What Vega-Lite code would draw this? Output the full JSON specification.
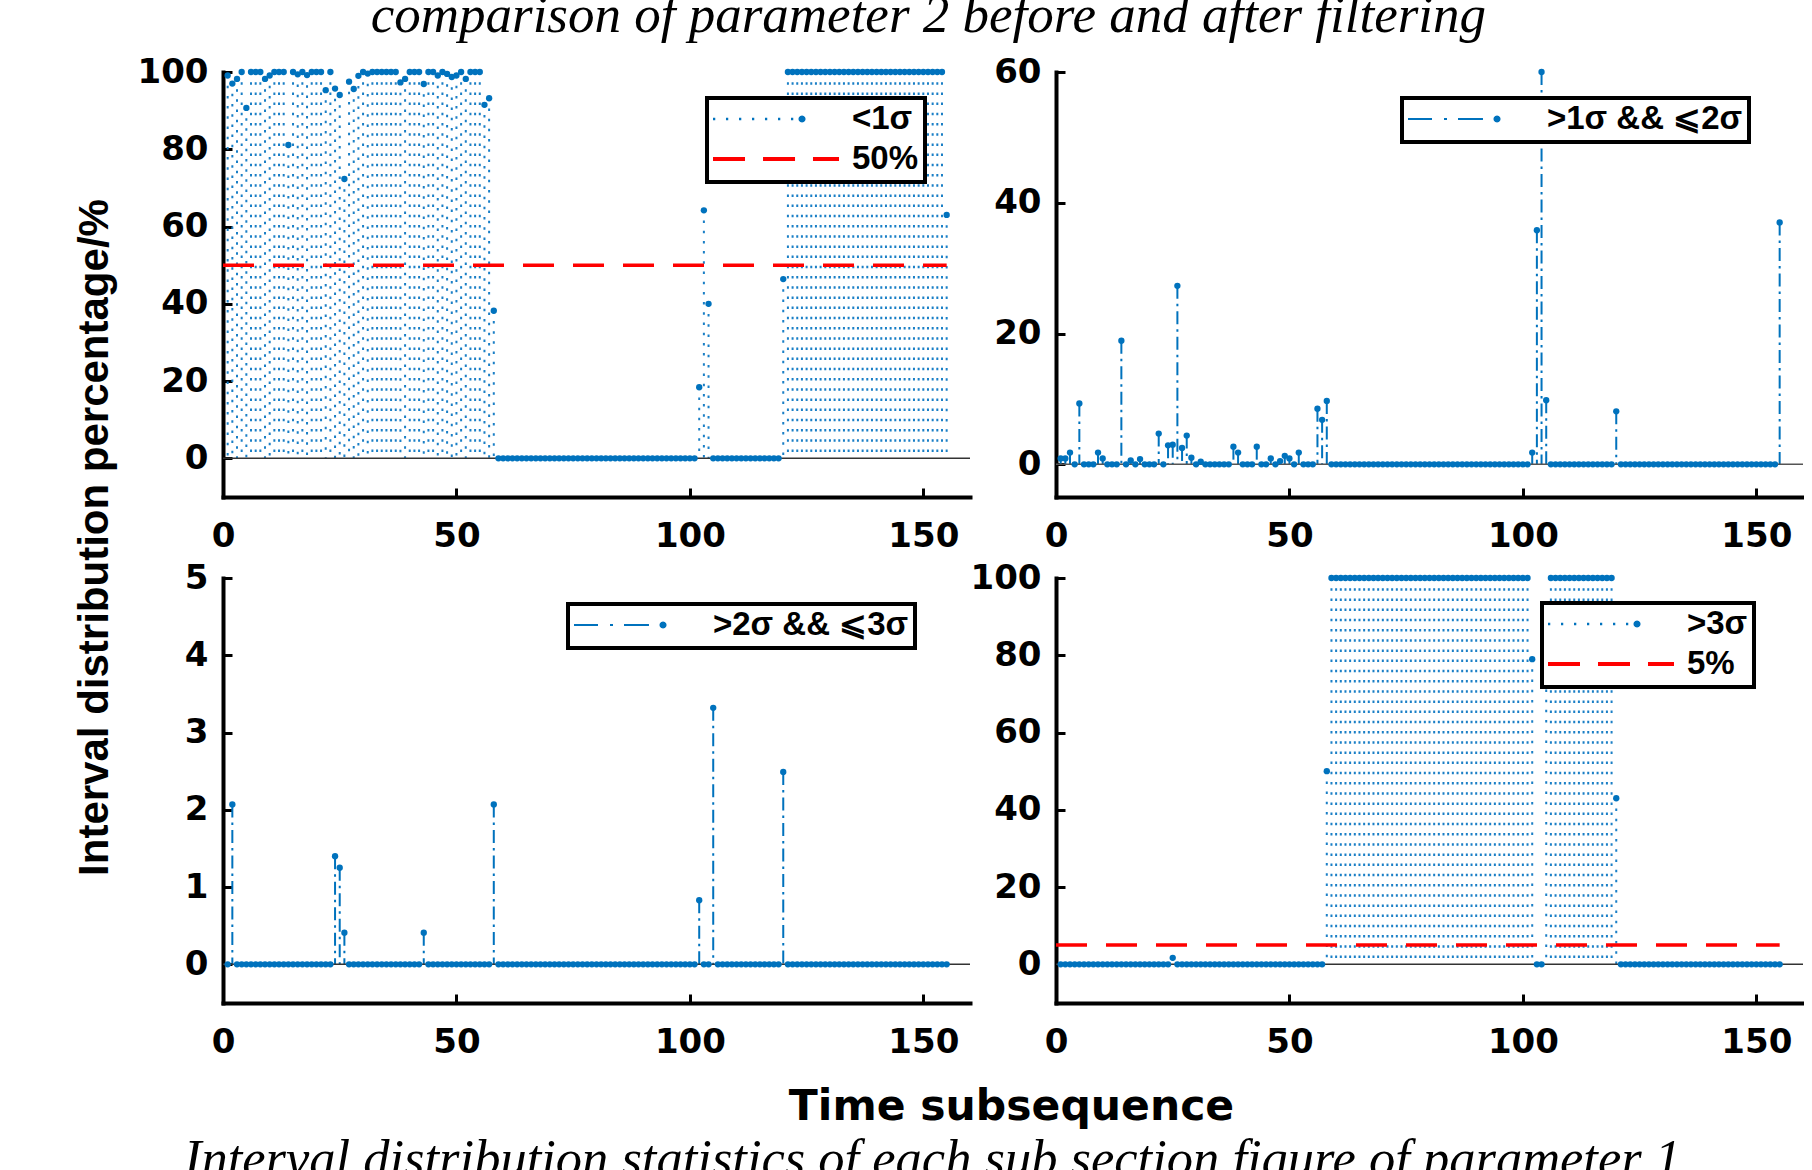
{
  "$schema": "https://vega.github.io/schema/vega-lite/v6.json",
  "background": "white",
  "autosize": {"type": "pad"},
  "padding": {"left": 72, "top": -10, "right": 0, "bottom": 0},
  "title": {"text": "comparison of  parameter 2 before and after filtering", "font": "Liberation Serif", "fontSize": 53, "fontStyle": "italic", "fontWeight": "normal", "color": "#000", "anchor": "middle", "baseline": "alphabetic", "offset": -30, "dx": -10},
  "columns": 2,
  "spacing": {"row": 81, "column": 86},
  "bounds": "flush",
  "resolve": {"scale": {"color": "independent", "shape": "independent"}, "legend": {"color": "independent", "shape": "independent"}},
  "datasets": {
    "d": [
      {"t":1,"p1":99.1,"p2":0.9,"p3":0,"p4":0},
      {"t":2,"p1":97.0,"p2":0.9,"p3":2.07,"p4":0},
      {"t":3,"p1":98.2,"p2":1.8,"p3":0,"p4":0},
      {"t":4,"p1":100,"p2":0,"p3":0,"p4":0},
      {"t":5,"p1":90.7,"p2":9.3,"p3":0,"p4":0},
      {"t":6,"p1":100,"p2":0,"p3":0,"p4":0},
      {"t":7,"p1":100,"p2":0,"p3":0,"p4":0},
      {"t":8,"p1":100,"p2":0,"p3":0,"p4":0},
      {"t":9,"p1":98.2,"p2":1.8,"p3":0,"p4":0},
      {"t":10,"p1":99.1,"p2":0.9,"p3":0,"p4":0},
      {"t":11,"p1":100,"p2":0,"p3":0,"p4":0},
      {"t":12,"p1":100,"p2":0,"p3":0,"p4":0},
      {"t":13,"p1":100,"p2":0,"p3":0,"p4":0},
      {"t":14,"p1":81.1,"p2":18.9,"p3":0,"p4":0},
      {"t":15,"p1":100,"p2":0,"p3":0,"p4":0},
      {"t":16,"p1":99.4,"p2":0.6,"p3":0,"p4":0},
      {"t":17,"p1":100,"p2":0,"p3":0,"p4":0},
      {"t":18,"p1":99.2,"p2":0.8,"p3":0,"p4":0},
      {"t":19,"p1":100,"p2":0,"p3":0,"p4":0},
      {"t":20,"p1":100,"p2":0,"p3":0,"p4":0},
      {"t":21,"p1":100,"p2":0,"p3":0,"p4":0},
      {"t":22,"p1":95.3,"p2":4.7,"p3":0,"p4":0},
      {"t":23,"p1":100,"p2":0,"p3":0,"p4":0},
      {"t":24,"p1":95.7,"p2":2.9,"p3":1.4,"p4":0},
      {"t":25,"p1":94.05,"p2":3.0,"p3":1.25,"p4":1.7},
      {"t":26,"p1":72.3,"p2":27.3,"p3":0.41,"p4":0},
      {"t":27,"p1":97.5,"p2":2.5,"p3":0,"p4":0},
      {"t":28,"p1":95.6,"p2":4.4,"p3":0,"p4":0},
      {"t":29,"p1":99.0,"p2":1.0,"p3":0,"p4":0},
      {"t":30,"p1":100,"p2":0,"p3":0,"p4":0},
      {"t":31,"p1":99.6,"p2":0.4,"p3":0,"p4":0},
      {"t":32,"p1":100,"p2":0,"p3":0,"p4":0},
      {"t":33,"p1":100,"p2":0,"p3":0,"p4":0},
      {"t":34,"p1":100,"p2":0,"p3":0,"p4":0},
      {"t":35,"p1":100,"p2":0,"p3":0,"p4":0},
      {"t":36,"p1":100,"p2":0,"p3":0,"p4":0},
      {"t":37,"p1":100,"p2":0,"p3":0,"p4":0},
      {"t":38,"p1":97.3,"p2":2.7,"p3":0,"p4":0},
      {"t":39,"p1":98.2,"p2":1.8,"p3":0,"p4":0},
      {"t":40,"p1":100,"p2":0,"p3":0,"p4":0},
      {"t":41,"p1":100,"p2":0,"p3":0,"p4":0},
      {"t":42,"p1":100,"p2":0,"p3":0,"p4":0},
      {"t":43,"p1":96.9,"p2":2.7,"p3":0.41,"p4":0},
      {"t":44,"p1":100,"p2":0,"p3":0,"p4":0},
      {"t":45,"p1":100,"p2":0,"p3":0,"p4":0},
      {"t":46,"p1":99.1,"p2":0.9,"p3":0,"p4":0},
      {"t":47,"p1":100,"p2":0,"p3":0,"p4":0},
      {"t":48,"p1":99.5,"p2":0.5,"p3":0,"p4":0},
      {"t":49,"p1":98.7,"p2":1.3,"p3":0,"p4":0},
      {"t":50,"p1":99.1,"p2":0.9,"p3":0,"p4":0},
      {"t":51,"p1":100,"p2":0,"p3":0,"p4":0},
      {"t":52,"p1":98.2,"p2":1.8,"p3":0,"p4":0},
      {"t":53,"p1":100,"p2":0,"p3":0,"p4":0},
      {"t":54,"p1":100,"p2":0,"p3":0,"p4":0},
      {"t":55,"p1":100,"p2":0,"p3":0,"p4":0},
      {"t":56,"p1":91.5,"p2":8.5,"p3":0,"p4":0},
      {"t":57,"p1":93.2,"p2":6.8,"p3":0,"p4":0},
      {"t":58,"p1":38.2,"p2":9.7,"p3":2.07,"p4":50},
      {"t":59,"p1":0,"p2":0,"p3":0,"p4":100},
      {"t":60,"p1":0,"p2":0,"p3":0,"p4":100},
      {"t":61,"p1":0,"p2":0,"p3":0,"p4":100},
      {"t":62,"p1":0,"p2":0,"p3":0,"p4":100},
      {"t":63,"p1":0,"p2":0,"p3":0,"p4":100},
      {"t":64,"p1":0,"p2":0,"p3":0,"p4":100},
      {"t":65,"p1":0,"p2":0,"p3":0,"p4":100},
      {"t":66,"p1":0,"p2":0,"p3":0,"p4":100},
      {"t":67,"p1":0,"p2":0,"p3":0,"p4":100},
      {"t":68,"p1":0,"p2":0,"p3":0,"p4":100},
      {"t":69,"p1":0,"p2":0,"p3":0,"p4":100},
      {"t":70,"p1":0,"p2":0,"p3":0,"p4":100},
      {"t":71,"p1":0,"p2":0,"p3":0,"p4":100},
      {"t":72,"p1":0,"p2":0,"p3":0,"p4":100},
      {"t":73,"p1":0,"p2":0,"p3":0,"p4":100},
      {"t":74,"p1":0,"p2":0,"p3":0,"p4":100},
      {"t":75,"p1":0,"p2":0,"p3":0,"p4":100},
      {"t":76,"p1":0,"p2":0,"p3":0,"p4":100},
      {"t":77,"p1":0,"p2":0,"p3":0,"p4":100},
      {"t":78,"p1":0,"p2":0,"p3":0,"p4":100},
      {"t":79,"p1":0,"p2":0,"p3":0,"p4":100},
      {"t":80,"p1":0,"p2":0,"p3":0,"p4":100},
      {"t":81,"p1":0,"p2":0,"p3":0,"p4":100},
      {"t":82,"p1":0,"p2":0,"p3":0,"p4":100},
      {"t":83,"p1":0,"p2":0,"p3":0,"p4":100},
      {"t":84,"p1":0,"p2":0,"p3":0,"p4":100},
      {"t":85,"p1":0,"p2":0,"p3":0,"p4":100},
      {"t":86,"p1":0,"p2":0,"p3":0,"p4":100},
      {"t":87,"p1":0,"p2":0,"p3":0,"p4":100},
      {"t":88,"p1":0,"p2":0,"p3":0,"p4":100},
      {"t":89,"p1":0,"p2":0,"p3":0,"p4":100},
      {"t":90,"p1":0,"p2":0,"p3":0,"p4":100},
      {"t":91,"p1":0,"p2":0,"p3":0,"p4":100},
      {"t":92,"p1":0,"p2":0,"p3":0,"p4":100},
      {"t":93,"p1":0,"p2":0,"p3":0,"p4":100},
      {"t":94,"p1":0,"p2":0,"p3":0,"p4":100},
      {"t":95,"p1":0,"p2":0,"p3":0,"p4":100},
      {"t":96,"p1":0,"p2":0,"p3":0,"p4":100},
      {"t":97,"p1":0,"p2":0,"p3":0,"p4":100},
      {"t":98,"p1":0,"p2":0,"p3":0,"p4":100},
      {"t":99,"p1":0,"p2":0,"p3":0,"p4":100},
      {"t":100,"p1":0,"p2":0,"p3":0,"p4":100},
      {"t":101,"p1":0,"p2":0,"p3":0,"p4":100},
      {"t":102,"p1":18.4,"p2":1.8,"p3":0.83,"p4":79},
      {"t":103,"p1":64.2,"p2":35.8,"p3":0,"p4":0},
      {"t":104,"p1":40,"p2":60,"p3":0,"p4":0},
      {"t":105,"p1":0,"p2":9.8,"p3":3.32,"p4":87},
      {"t":106,"p1":0,"p2":0,"p3":0,"p4":100},
      {"t":107,"p1":0,"p2":0,"p3":0,"p4":100},
      {"t":108,"p1":0,"p2":0,"p3":0,"p4":100},
      {"t":109,"p1":0,"p2":0,"p3":0,"p4":100},
      {"t":110,"p1":0,"p2":0,"p3":0,"p4":100},
      {"t":111,"p1":0,"p2":0,"p3":0,"p4":100},
      {"t":112,"p1":0,"p2":0,"p3":0,"p4":100},
      {"t":113,"p1":0,"p2":0,"p3":0,"p4":100},
      {"t":114,"p1":0,"p2":0,"p3":0,"p4":100},
      {"t":115,"p1":0,"p2":0,"p3":0,"p4":100},
      {"t":116,"p1":0,"p2":0,"p3":0,"p4":100},
      {"t":117,"p1":0,"p2":0,"p3":0,"p4":100},
      {"t":118,"p1":0,"p2":0,"p3":0,"p4":100},
      {"t":119,"p1":0,"p2":0,"p3":0,"p4":100},
      {"t":120,"p1":46.4,"p2":8.1,"p3":2.49,"p4":43},
      {"t":121,"p1":100,"p2":0,"p3":0,"p4":0},
      {"t":122,"p1":100,"p2":0,"p3":0,"p4":0},
      {"t":123,"p1":100,"p2":0,"p3":0,"p4":0},
      {"t":124,"p1":100,"p2":0,"p3":0,"p4":0},
      {"t":125,"p1":100,"p2":0,"p3":0,"p4":0},
      {"t":126,"p1":100,"p2":0,"p3":0,"p4":0},
      {"t":127,"p1":100,"p2":0,"p3":0,"p4":0},
      {"t":128,"p1":100,"p2":0,"p3":0,"p4":0},
      {"t":129,"p1":100,"p2":0,"p3":0,"p4":0},
      {"t":130,"p1":100,"p2":0,"p3":0,"p4":0},
      {"t":131,"p1":100,"p2":0,"p3":0,"p4":0},
      {"t":132,"p1":100,"p2":0,"p3":0,"p4":0},
      {"t":133,"p1":100,"p2":0,"p3":0,"p4":0},
      {"t":134,"p1":100,"p2":0,"p3":0,"p4":0},
      {"t":135,"p1":100,"p2":0,"p3":0,"p4":0},
      {"t":136,"p1":100,"p2":0,"p3":0,"p4":0},
      {"t":137,"p1":100,"p2":0,"p3":0,"p4":0},
      {"t":138,"p1":100,"p2":0,"p3":0,"p4":0},
      {"t":139,"p1":100,"p2":0,"p3":0,"p4":0},
      {"t":140,"p1":100,"p2":0,"p3":0,"p4":0},
      {"t":141,"p1":100,"p2":0,"p3":0,"p4":0},
      {"t":142,"p1":100,"p2":0,"p3":0,"p4":0},
      {"t":143,"p1":100,"p2":0,"p3":0,"p4":0},
      {"t":144,"p1":100,"p2":0,"p3":0,"p4":0},
      {"t":145,"p1":100,"p2":0,"p3":0,"p4":0},
      {"t":146,"p1":100,"p2":0,"p3":0,"p4":0},
      {"t":147,"p1":100,"p2":0,"p3":0,"p4":0},
      {"t":148,"p1":100,"p2":0,"p3":0,"p4":0},
      {"t":149,"p1":100,"p2":0,"p3":0,"p4":0},
      {"t":150,"p1":100,"p2":0,"p3":0,"p4":0},
      {"t":151,"p1":100,"p2":0,"p3":0,"p4":0},
      {"t":152,"p1":100,"p2":0,"p3":0,"p4":0},
      {"t":153,"p1":100,"p2":0,"p3":0,"p4":0},
      {"t":154,"p1":100,"p2":0,"p3":0,"p4":0},
      {"t":155,"p1":63,"p2":37,"p3":0,"p4":0}
    ]
  },
  "concat": [
    {
      "width": 747, "height": 425,
      "layer": [
        {"data": {"name": "d"}, "mark": {"type": "rule", "color": "#1a7fc6", "strokeWidth": 2, "strokeDash": [2.5, 7.7]},
         "encoding": {"x": {"field": "t", "type": "quantitative", "scale": {"domain": [0, 160], "nice": false, "zero": false}, "axis": {"values": [0, 50, 100, 150], "title": null}},
                      "y": {"field": "p1", "type": "quantitative", "scale": {"domain": [-10, 100], "nice": false, "zero": false}, "axis": {"values": [0, 20, 40, 60, 80, 100], "title": "Interval distribution percentage/%", "titleX": -116, "titleY": 465, "titleAngle": 270, "titleAlign": "center", "titleBaseline": "alphabetic", "titleFont": "Liberation Sans", "titleFontWeight": "bold", "titleFontSize": 42}},
                      "y2": {"datum": 0}}},
        {"data": {"values": [{}]}, "mark": {"type": "rule", "color": "#333333", "strokeWidth": 1.5},
         "encoding": {"y": {"datum": 0, "type": "quantitative", "scale": {"domain": [-10, 100], "nice": false, "zero": false}, "axis": {"values": [0, 20, 40, 60, 80, 100], "title": "Interval distribution percentage/%", "titleX": -116, "titleY": 465, "titleAngle": 270, "titleAlign": "center", "titleBaseline": "alphabetic", "titleFont": "Liberation Sans", "titleFontWeight": "bold", "titleFontSize": 42}}}},
        {"data": {"name": "d"}, "mark": {"type": "point", "filled": true, "size": 40, "opacity": 1, "color": "#0072BD", "strokeWidth": 0},
         "encoding": {"x": {"field": "t", "type": "quantitative", "scale": {"domain": [0, 160], "nice": false, "zero": false}, "axis": {"values": [0, 50, 100, 150], "title": null}},
                      "y": {"field": "p1", "type": "quantitative", "scale": {"domain": [-10, 100], "nice": false, "zero": false}, "axis": {"values": [0, 20, 40, 60, 80, 100], "title": "Interval distribution percentage/%", "titleX": -116, "titleY": 465, "titleAngle": 270, "titleAlign": "center", "titleBaseline": "alphabetic", "titleFont": "Liberation Sans", "titleFontWeight": "bold", "titleFontSize": 42}}}},
        {"data": {"values": [{}]}, "mark": {"type": "rule", "color": "#FF0000", "strokeWidth": 3.5, "strokeDash": [31, 19]},
         "encoding": {"y": {"datum": 50, "type": "quantitative", "scale": {"domain": [-10, 100], "nice": false, "zero": false}, "axis": {"values": [0, 20, 40, 60, 80, 100], "title": "Interval distribution percentage/%", "titleX": -116, "titleY": 465, "titleAngle": 270, "titleAlign": "center", "titleBaseline": "alphabetic", "titleFont": "Liberation Sans", "titleFontWeight": "bold", "titleFontSize": 42}},
                      "x": {"datum": 0, "type": "quantitative", "scale": {"domain": [0, 160], "nice": false, "zero": false}, "axis": {"values": [0, 50, 100, 150], "title": null}},
                      "x2": {"datum": 155}}},
        {"data": {"values": [{"s": "<1σ"}, {"s": "50%"}]}, "transform": [{"filter": "false"}],
         "mark": {"type": "point", "filled": true, "opacity": 1},
         "encoding": {
           "color": {"field": "s", "type": "nominal", "scale": {"domain": ["<1σ", "50%"], "range": ["#0072BD", "#FF0000"]},
                     "legend": {"orient": "none", "legendX": 484, "legendY": 26, "title": null, "padding": 6, "strokeColor": "#000", "fillColor": "#fff", "symbolSize": 15876, "symbolStrokeWidth": 0, "symbolOpacity": 1, "clipHeight": 30, "rowPadding": 7, "labelOffset": 13, "labelFont": "Liberation Sans", "labelFontWeight": "bold", "labelFontSize": 33, "labelColor": "#000", "labelLimit": 500, "labelBaseline": "middle", "encode": {"legend": {"update": {"strokeWidth": {"value": 4}}}}}},
           "shape": {"field": "s", "type": "nominal", "scale": {"domain": ["<1σ", "50%"], "range": [
             "M-1,-0.018L-0.964,-0.018L-0.964,0.018L-1,0.018ZM-0.794,-0.018L-0.758,-0.018L-0.758,0.018L-0.794,0.018ZM-0.587,-0.018L-0.551,-0.018L-0.551,0.018L-0.587,0.018ZM-0.381,-0.018L-0.345,-0.018L-0.345,0.018L-0.381,0.018ZM-0.175,-0.018L-0.139,-0.018L-0.139,0.018L-0.175,0.018ZM0.032,-0.018L0.068,-0.018L0.068,0.018L0.032,0.018ZM0.238,-0.018L0.274,-0.018L0.274,0.018L0.238,0.018ZM0.47,0L0.462,0.0285L0.4415,0.0494L0.413,0.057L0.3845,0.0494L0.3636,0.0285L0.356,0L0.3636,-0.0285L0.3845,-0.0494L0.413,-0.057L0.4415,-0.0494L0.462,-0.0285Z",
             "M-1,-0.032L-0.492,-0.032L-0.492,0.032L-1,0.032ZM-0.206,-0.032L0.302,-0.032L0.302,0.032L-0.206,0.032ZM0.587,-0.032L1,-0.032L1,0.032L0.587,0.032Z"]},
                     "legend": {"orient": "none", "legendX": 484, "legendY": 26, "title": null, "padding": 6, "strokeColor": "#000", "fillColor": "#fff", "symbolSize": 15876, "symbolStrokeWidth": 0, "symbolOpacity": 1, "clipHeight": 30, "rowPadding": 7, "labelOffset": 13, "labelFont": "Liberation Sans", "labelFontWeight": "bold", "labelFontSize": 33, "labelColor": "#000", "labelLimit": 500, "labelBaseline": "middle", "encode": {"legend": {"update": {"strokeWidth": {"value": 4}}}}}}
         }}
      ]
    },
    {
      "width": 747, "height": 425,
      "layer": [
        {"data": {"name": "d"}, "mark": {"type": "rule", "color": "#0072BD", "strokeWidth": 2, "strokeDash": [13, 5, 2.5, 5]},
         "encoding": {"x": {"field": "t", "type": "quantitative", "scale": {"domain": [0, 160], "nice": false, "zero": false}, "axis": {"values": [0, 50, 100, 150], "title": null}},
                      "y": {"field": "p2", "type": "quantitative", "scale": {"domain": [-5, 60], "nice": false, "zero": false}, "axis": {"values": [0, 20, 40, 60], "title": null}},
                      "y2": {"datum": 0}}},
        {"data": {"values": [{}]}, "mark": {"type": "rule", "color": "#555555", "strokeWidth": 1.5},
         "encoding": {"y": {"datum": 0, "type": "quantitative", "scale": {"domain": [-5, 60], "nice": false, "zero": false}, "axis": {"values": [0, 20, 40, 60], "title": null}}}},
        {"data": {"name": "d"}, "mark": {"type": "point", "filled": true, "size": 40, "opacity": 1, "color": "#0072BD", "strokeWidth": 0},
         "encoding": {"x": {"field": "t", "type": "quantitative", "scale": {"domain": [0, 160], "nice": false, "zero": false}, "axis": {"values": [0, 50, 100, 150], "title": null}},
                      "y": {"field": "p2", "type": "quantitative", "scale": {"domain": [-5, 60], "nice": false, "zero": false}, "axis": {"values": [0, 20, 40, 60], "title": null}}}},
        {"data": {"values": [{"s": ">1σ && ⩽2σ"}]}, "transform": [{"filter": "false"}],
         "mark": {"type": "point", "filled": true, "opacity": 1},
         "encoding": {
           "color": {"field": "s", "type": "nominal", "scale": {"domain": [">1σ && ⩽2σ"], "range": ["#0072BD"]},
                     "legend": {"orient": "none", "legendX": 346, "legendY": 26, "title": null, "padding": 6, "strokeColor": "#000", "fillColor": "#fff", "symbolSize": 15876, "symbolStrokeWidth": 0, "symbolOpacity": 1, "clipHeight": 30, "rowPadding": 7, "labelOffset": 13, "labelFont": "Liberation Sans", "labelFontWeight": "bold", "labelFontSize": 33, "labelColor": "#000", "labelLimit": 500, "labelBaseline": "middle", "encode": {"legend": {"update": {"strokeWidth": {"value": 4}}}}}},
           "shape": {"field": "s", "type": "nominal", "scale": {"domain": [">1σ && ⩽2σ"], "range": [
             "M-1,-0.016L-0.619,-0.016L-0.619,0.016L-1,0.016ZM-0.429,-0.016L-0.381,-0.016L-0.381,0.016L-0.429,0.016ZM-0.206,-0.016L0.19,-0.016L0.19,0.016L-0.206,0.016ZM0.47,0L0.462,0.0285L0.4415,0.0494L0.413,0.057L0.3845,0.0494L0.3636,0.0285L0.356,0L0.3636,-0.0285L0.3845,-0.0494L0.413,-0.057L0.4415,-0.0494L0.462,-0.0285Z"]},
                     "legend": {"orient": "none", "legendX": 346, "legendY": 26, "title": null, "padding": 6, "strokeColor": "#000", "fillColor": "#fff", "symbolSize": 15876, "symbolStrokeWidth": 0, "symbolOpacity": 1, "clipHeight": 30, "rowPadding": 7, "labelOffset": 13, "labelFont": "Liberation Sans", "labelFontWeight": "bold", "labelFontSize": 33, "labelColor": "#000", "labelLimit": 500, "labelBaseline": "middle", "encode": {"legend": {"update": {"strokeWidth": {"value": 4}}}}}}
         }}
      ]
    },
    {
      "width": 747, "height": 425,
      "layer": [
        {"data": {"name": "d"}, "mark": {"type": "rule", "color": "#0072BD", "strokeWidth": 2, "strokeDash": [13, 5, 2.5, 5]},
         "encoding": {"x": {"field": "t", "type": "quantitative", "scale": {"domain": [0, 160], "nice": false, "zero": false}, "axis": {"values": [0, 50, 100, 150], "title": "Time subsequence", "titleX": 788, "titleY": 116, "titleAlign": "center", "titleBaseline": "alphabetic", "titleFont": "DejaVu Sans", "titleFontWeight": "bold", "titleFontSize": 42.5}},
                      "y": {"field": "p3", "type": "quantitative", "scale": {"domain": [-0.5, 5], "nice": false, "zero": false}, "axis": {"values": [0, 1, 2, 3, 4, 5], "title": null}},
                      "y2": {"datum": 0}}},
        {"data": {"values": [{}]}, "mark": {"type": "rule", "color": "#333333", "strokeWidth": 1.5},
         "encoding": {"y": {"datum": 0, "type": "quantitative", "scale": {"domain": [-0.5, 5], "nice": false, "zero": false}, "axis": {"values": [0, 1, 2, 3, 4, 5], "title": null}}}},
        {"data": {"name": "d"}, "mark": {"type": "point", "filled": true, "size": 40, "opacity": 1, "color": "#0072BD", "strokeWidth": 0},
         "encoding": {"x": {"field": "t", "type": "quantitative", "scale": {"domain": [0, 160], "nice": false, "zero": false}, "axis": {"values": [0, 50, 100, 150], "title": "Time subsequence", "titleX": 788, "titleY": 116, "titleAlign": "center", "titleBaseline": "alphabetic", "titleFont": "DejaVu Sans", "titleFontWeight": "bold", "titleFontSize": 42.5}},
                      "y": {"field": "p3", "type": "quantitative", "scale": {"domain": [-0.5, 5], "nice": false, "zero": false}, "axis": {"values": [0, 1, 2, 3, 4, 5], "title": null}}}},
        {"data": {"values": [{"s": ">2σ && ⩽3σ"}]}, "transform": [{"filter": "false"}],
         "mark": {"type": "point", "filled": true, "opacity": 1},
         "encoding": {
           "color": {"field": "s", "type": "nominal", "scale": {"domain": [">2σ && ⩽3σ"], "range": ["#0072BD"]},
                     "legend": {"orient": "none", "legendX": 345, "legendY": 26, "title": null, "padding": 6, "strokeColor": "#000", "fillColor": "#fff", "symbolSize": 15876, "symbolStrokeWidth": 0, "symbolOpacity": 1, "clipHeight": 30, "rowPadding": 7, "labelOffset": 13, "labelFont": "Liberation Sans", "labelFontWeight": "bold", "labelFontSize": 33, "labelColor": "#000", "labelLimit": 500, "labelBaseline": "middle", "encode": {"legend": {"update": {"strokeWidth": {"value": 4}}}}}},
           "shape": {"field": "s", "type": "nominal", "scale": {"domain": [">2σ && ⩽3σ"], "range": [
             "M-1,-0.016L-0.619,-0.016L-0.619,0.016L-1,0.016ZM-0.429,-0.016L-0.381,-0.016L-0.381,0.016L-0.429,0.016ZM-0.206,-0.016L0.19,-0.016L0.19,0.016L-0.206,0.016ZM0.47,0L0.462,0.0285L0.4415,0.0494L0.413,0.057L0.3845,0.0494L0.3636,0.0285L0.356,0L0.3636,-0.0285L0.3845,-0.0494L0.413,-0.057L0.4415,-0.0494L0.462,-0.0285Z"]},
                     "legend": {"orient": "none", "legendX": 345, "legendY": 26, "title": null, "padding": 6, "strokeColor": "#000", "fillColor": "#fff", "symbolSize": 15876, "symbolStrokeWidth": 0, "symbolOpacity": 1, "clipHeight": 30, "rowPadding": 7, "labelOffset": 13, "labelFont": "Liberation Sans", "labelFontWeight": "bold", "labelFontSize": 33, "labelColor": "#000", "labelLimit": 500, "labelBaseline": "middle", "encode": {"legend": {"update": {"strokeWidth": {"value": 4}}}}}}
         }}
      ]
    },
    {
      "width": 747, "height": 425,
      "layer": [
        {"data": {"name": "d"}, "mark": {"type": "rule", "color": "#1a7fc6", "strokeWidth": 2, "strokeDash": [2.5, 7.7]},
         "encoding": {"x": {"field": "t", "type": "quantitative", "scale": {"domain": [0, 160], "nice": false, "zero": false}, "axis": {"values": [0, 50, 100, 150], "title": "Interval distribution statistics of each sub section figure of parameter 1", "titleX": -124, "titleY": 172, "titleAlign": "center", "titleBaseline": "alphabetic", "titleFont": "Liberation Serif", "titleFontStyle": "italic", "titleFontWeight": "normal", "titleFontSize": 52.5}},
                      "y": {"field": "p4", "type": "quantitative", "scale": {"domain": [-10, 100], "nice": false, "zero": false}, "axis": {"values": [0, 20, 40, 60, 80, 100], "title": null}},
                      "y2": {"datum": 0}}},
        {"data": {"values": [{}]}, "mark": {"type": "rule", "color": "#333333", "strokeWidth": 1.5},
         "encoding": {"y": {"datum": 0, "type": "quantitative", "scale": {"domain": [-10, 100], "nice": false, "zero": false}, "axis": {"values": [0, 20, 40, 60, 80, 100], "title": null}}}},
        {"data": {"name": "d"}, "mark": {"type": "point", "filled": true, "size": 40, "opacity": 1, "color": "#0072BD", "strokeWidth": 0},
         "encoding": {"x": {"field": "t", "type": "quantitative", "scale": {"domain": [0, 160], "nice": false, "zero": false}, "axis": {"values": [0, 50, 100, 150], "title": "Interval distribution statistics of each sub section figure of parameter 1", "titleX": -124, "titleY": 172, "titleAlign": "center", "titleBaseline": "alphabetic", "titleFont": "Liberation Serif", "titleFontStyle": "italic", "titleFontWeight": "normal", "titleFontSize": 52.5}},
                      "y": {"field": "p4", "type": "quantitative", "scale": {"domain": [-10, 100], "nice": false, "zero": false}, "axis": {"values": [0, 20, 40, 60, 80, 100], "title": null}}}},
        {"data": {"values": [{}]}, "mark": {"type": "rule", "color": "#FF0000", "strokeWidth": 3.5, "strokeDash": [31, 19]},
         "encoding": {"y": {"datum": 5, "type": "quantitative", "scale": {"domain": [-10, 100], "nice": false, "zero": false}, "axis": {"values": [0, 20, 40, 60, 80, 100], "title": null}},
                      "x": {"datum": 0, "type": "quantitative", "scale": {"domain": [0, 160], "nice": false, "zero": false}, "axis": {"values": [0, 50, 100, 150], "title": "Interval distribution statistics of each sub section figure of parameter 1", "titleX": -124, "titleY": 172, "titleAlign": "center", "titleBaseline": "alphabetic", "titleFont": "Liberation Serif", "titleFontStyle": "italic", "titleFontWeight": "normal", "titleFontSize": 52.5}},
                      "x2": {"datum": 155}}},
        {"data": {"values": [{"s": ">3σ"}, {"s": "5%"}]}, "transform": [{"filter": "false"}],
         "mark": {"type": "point", "filled": true, "opacity": 1},
         "encoding": {
           "color": {"field": "s", "type": "nominal", "scale": {"domain": [">3σ", "5%"], "range": ["#0072BD", "#FF0000"]},
                     "legend": {"orient": "none", "legendX": 486, "legendY": 25, "title": null, "padding": 6, "strokeColor": "#000", "fillColor": "#fff", "symbolSize": 15876, "symbolStrokeWidth": 0, "symbolOpacity": 1, "clipHeight": 30, "rowPadding": 7, "labelOffset": 13, "labelFont": "Liberation Sans", "labelFontWeight": "bold", "labelFontSize": 33, "labelColor": "#000", "labelLimit": 500, "labelBaseline": "middle", "encode": {"legend": {"update": {"strokeWidth": {"value": 4}}}}}},
           "shape": {"field": "s", "type": "nominal", "scale": {"domain": [">3σ", "5%"], "range": [
             "M-1,-0.018L-0.964,-0.018L-0.964,0.018L-1,0.018ZM-0.794,-0.018L-0.758,-0.018L-0.758,0.018L-0.794,0.018ZM-0.587,-0.018L-0.551,-0.018L-0.551,0.018L-0.587,0.018ZM-0.381,-0.018L-0.345,-0.018L-0.345,0.018L-0.381,0.018ZM-0.175,-0.018L-0.139,-0.018L-0.139,0.018L-0.175,0.018ZM0.032,-0.018L0.068,-0.018L0.068,0.018L0.032,0.018ZM0.238,-0.018L0.274,-0.018L0.274,0.018L0.238,0.018ZM0.47,0L0.462,0.0285L0.4415,0.0494L0.413,0.057L0.3845,0.0494L0.3636,0.0285L0.356,0L0.3636,-0.0285L0.3845,-0.0494L0.413,-0.057L0.4415,-0.0494L0.462,-0.0285Z",
             "M-1,-0.032L-0.492,-0.032L-0.492,0.032L-1,0.032ZM-0.206,-0.032L0.302,-0.032L0.302,0.032L-0.206,0.032ZM0.587,-0.032L1,-0.032L1,0.032L0.587,0.032Z"]},
                     "legend": {"orient": "none", "legendX": 486, "legendY": 25, "title": null, "padding": 6, "strokeColor": "#000", "fillColor": "#fff", "symbolSize": 15876, "symbolStrokeWidth": 0, "symbolOpacity": 1, "clipHeight": 30, "rowPadding": 7, "labelOffset": 13, "labelFont": "Liberation Sans", "labelFontWeight": "bold", "labelFontSize": 33, "labelColor": "#000", "labelLimit": 500, "labelBaseline": "middle", "encode": {"legend": {"update": {"strokeWidth": {"value": 4}}}}}}
         }}
      ]
    }
  ],
  "config": {
    "view": {"stroke": null},
    "axis": {
      "domainColor": "#000", "domainWidth": 4, "domainCap": "square",
      "tickColor": "#000", "tickWidth": 3, "tickSize": -9,
      "labelFont": "DejaVu Sans", "labelFontWeight": "bold", "labelFontSize": 34, "labelColor": "#000",
      "labelFlush": false, "labelOverlap": false,
      "grid": false, "titleColor": "#000", "titleLimit": 3000
    },
    "axisX": {"labelPadding": 31},
    "axisY": {"labelPadding": 24}
  }
}
